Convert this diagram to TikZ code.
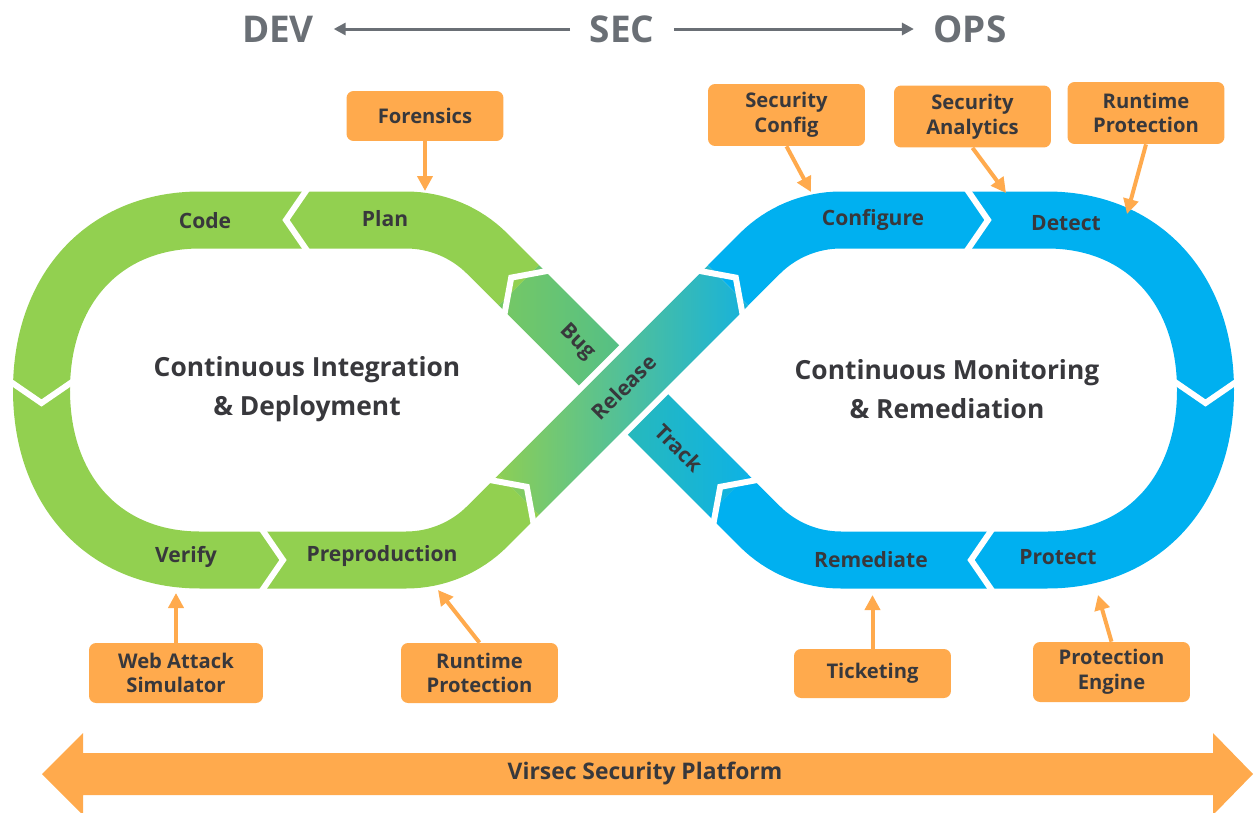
\documentclass[tikz,border=0pt]{standalone}
\usepackage{fontspec}
\setmainfont{Open Sans}
\usetikzlibrary{arrows.meta,positioning,calc}
\definecolor{VsGreen}{RGB}{146,208,80}
\definecolor{VsBlue}{RGB}{0,176,240}
\definecolor{VsOrange}{RGB}{255,170,77}
\definecolor{VsText}{RGB}{56,56,60}
\definecolor{VsGray}{RGB}{106,111,117}
\definecolor{VsBugA}{RGB}{118,200,100}
\definecolor{VsBugB}{RGB}{78,190,140}
\definecolor{VsRelA}{RGB}{140,206,86}
\definecolor{VsRelB}{RGB}{78,192,146}
\definecolor{VsRelC}{RGB}{22,178,220}
\definecolor{VsTrkA}{RGB}{44,186,180}
\definecolor{VsTrkB}{RGB}{14,178,228}
\tikzset{
  vs/loop/.style={line width=1.14cm, line cap=butt},
  vs/chevron/.style={draw=white, line width=0.12cm, line join=miter},
  vs/stage/.style={font=\bfseries\fontsize{12}{14}\selectfont, text=VsText},
  vs/slant/.style={vs/stage, inner sep=0pt},
  vs/centre/.style={font=\bfseries\fontsize{15}{22.5}\selectfont, text=VsText, align=center},
  vs/tool/.style={
    fill=VsOrange,
    rounded corners=4pt,
    align=center,
    text=VsText,
    minimum width=3.14cm,
    inner sep=2pt,
    font=\bfseries\fontsize{11.5}{14}\selectfont
  },
  vs/toolarrow/.style={-{Triangle[length=0.3cm,width=0.3cm]}, line width=0.08cm, draw=VsOrange},
  vs/team/.style={font=\bfseries\fontsize{21}{24}\selectfont, text=VsGray, inner xsep=11pt, inner ysep=2pt},
  vs/teamarrow/.style={-{Triangle[length=0.24cm,width=0.24cm]}, line width=0.06cm, draw=VsGray}
}
\newcommand{\vschevron}[2]{\draw[vs/chevron, shift={#1}, rotate=#2] (-11,-32) -- (11,0) -- (-11,32);}

\begin{document}
\begin{tikzpicture}[x=0.02cm,y=-0.02cm]
  \useasboundingbox (0,0) rectangle (1255,812);
  \coordinate (o) at (623.5,390);
  \coordinate (j1) at (519,285.4);
  \coordinate (j2) at (519,494.6);
  \coordinate (j3) at (728,285.4);
  \coordinate (j4) at (728,494.6);

  \draw[vs/loop, draw=VsGreen] (j1) -- (487.3,253.7) .. controls (465.7,232.1) and (436.5,220) .. (406,220)
    -- (200,220) .. controls (104.9,220) and (41.5,288) .. (41.5,390)
    .. controls (41.5,492) and (104.9,560) .. (200,560) -- (406,560)
    .. controls (436.5,560) and (465.7,547.9) .. (487.3,526.3) -- (j2);
  \draw[vs/loop, draw=VsBlue] (j3) -- (759.7,253.7) .. controls (781.3,232.1) and (810.5,220) .. (841,220)
    -- (1047,220) .. controls (1142.1,220) and (1205.5,288) .. (1205.5,390)
    .. controls (1205.5,492) and (1142.1,560) .. (1047,560) -- (841,560)
    .. controls (810.5,560) and (781.3,547.9) .. (759.7,526.3) -- (j4);

  \begin{scope}[shift={(j1)}, rotate=-45]
    \shade[left color=VsBugA, right color=VsBugB] (0,-28.5) rectangle (148,28.5);
  \end{scope}
  \begin{scope}[shift={(o)}, rotate=-45]
    \shade[left color=VsTrkA, right color=VsTrkB] (0,-28.5) rectangle (148,28.5);
  \end{scope}
  \begin{scope}[shift={(o)}, rotate=45]
    \fill[white] (-45,-34.5) rectangle (45,34.5);
  \end{scope}
  \begin{scope}[shift={(j2)}, rotate=45]
    \shade[left color=VsRelA, middle color=VsRelB, right color=VsRelC] (0,-28.5) rectangle (295.6,28.5);
  \end{scope}

  \vschevron{(297,220)}{180}
  \vschevron{(41.5,392)}{-90}
  \vschevron{(272,560)}{0}
  \vschevron{(j2)}{45}
  \vschevron{(j3)}{45}
  \vschevron{(977,220)}{0}
  \vschevron{(1205.5,392)}{-90}
  \vschevron{(982,560)}{180}
  \vschevron{(j4)}{135}
  \vschevron{(j1)}{135}

  \node[vs/stage] (code) at (205,221) {Code};
  \node[vs/stage] (plan) at (385,219) {Plan};
  \node[vs/stage] (verify) at (186,557) {Verify};
  \node[vs/stage] (preprod) at (382,556) {Preproduction};
  \node[vs/stage] (configure) at (873,220) {Configure};
  \node[vs/stage] (detect) at (1066,223) {Detect};
  \node[vs/stage] (remediate) at (871,560) {Remediate};
  \node[vs/stage] (protect) at (1058,557) {Protect};
  \node[vs/slant, rotate=-45] (bug) at (577,342) {Bug};
  \node[vs/slant, rotate=45] (release) at (624,387) {Release};
  \node[vs/slant, rotate=-45] (track) at (679,448) {Track};
  \node[vs/centre] (cicd) at (307,389) {Continuous Integration\\\& Deployment};
  \node[vs/centre] (cmr) at (947,389) {Continuous Monitoring\\\& Remediation};

  \node[vs/tool, minimum height=1.0cm] (forensics) at (425,116) {Forensics};
  \node[vs/tool, minimum height=1.24cm] (seccfg) at (786.5,115) {Security\\Config};
  \node[vs/tool, minimum height=1.24cm] (secana) at (972.5,116.5) {Security\\Analytics};
  \node[vs/tool, minimum height=1.24cm] (rtptop) at (1146,113) {Runtime\\Protection};
  \node[vs/tool, minimum height=1.2cm, minimum width=3.48cm] (webatk) at (176,673) {Web Attack\\Simulator};
  \node[vs/tool, minimum height=1.2cm] (rtpbot) at (479.5,673) {Runtime\\Protection};
  \node[vs/tool, minimum height=0.98cm] (ticket) at (872.5,673.5) {Ticketing};
  \node[vs/tool, minimum height=1.2cm] (proteng) at (1111.5,672) {Protection\\Engine};

  \coordinate (plantip) at (425,191);
  \coordinate (cfgtip) at (811,192);
  \coordinate (anatip) at (1006,193);
  \coordinate (dettip) at (1127,214);
  \coordinate (vertip) at (176,593);
  \coordinate (pretip) at (438,590);
  \coordinate (remtip) at (872.5,595);
  \coordinate (prottip) at (1098,595);
  \draw[vs/toolarrow] (forensics.south) -- (plantip);
  \draw[vs/toolarrow] (seccfg.south) -- (cfgtip);
  \draw[vs/toolarrow] (secana.south) -- (anatip);
  \draw[vs/toolarrow] (rtptop.south) -- (dettip);
  \draw[vs/toolarrow] (webatk.north) -- (vertip);
  \draw[vs/toolarrow] (rtpbot.north) -- (pretip);
  \draw[vs/toolarrow] (ticket.north) -- (remtip);
  \draw[vs/toolarrow] (proteng.north) -- (prottip);

  \node[vs/team] (dev) at (278,29) {DEV};
  \node[vs/team] (sec) at (622,29) {SEC};
  \node[vs/team] (ops) at (970,29) {OPS};
  \draw[vs/teamarrow] (sec) -- (dev);
  \draw[vs/teamarrow] (sec) -- (ops);

  \fill[VsOrange] (42,774) -- (83,733) -- (83,753) -- (1213,753) -- (1213,733) -- (1253,774)
    -- (1213,815) -- (1213,795) -- (83,795) -- (83,815) -- cycle;
  \node[font=\bfseries\fontsize{13}{15}\selectfont, text=VsText] (platform) at (645,773) {Virsec Security Platform};
\end{tikzpicture}
\end{document}
